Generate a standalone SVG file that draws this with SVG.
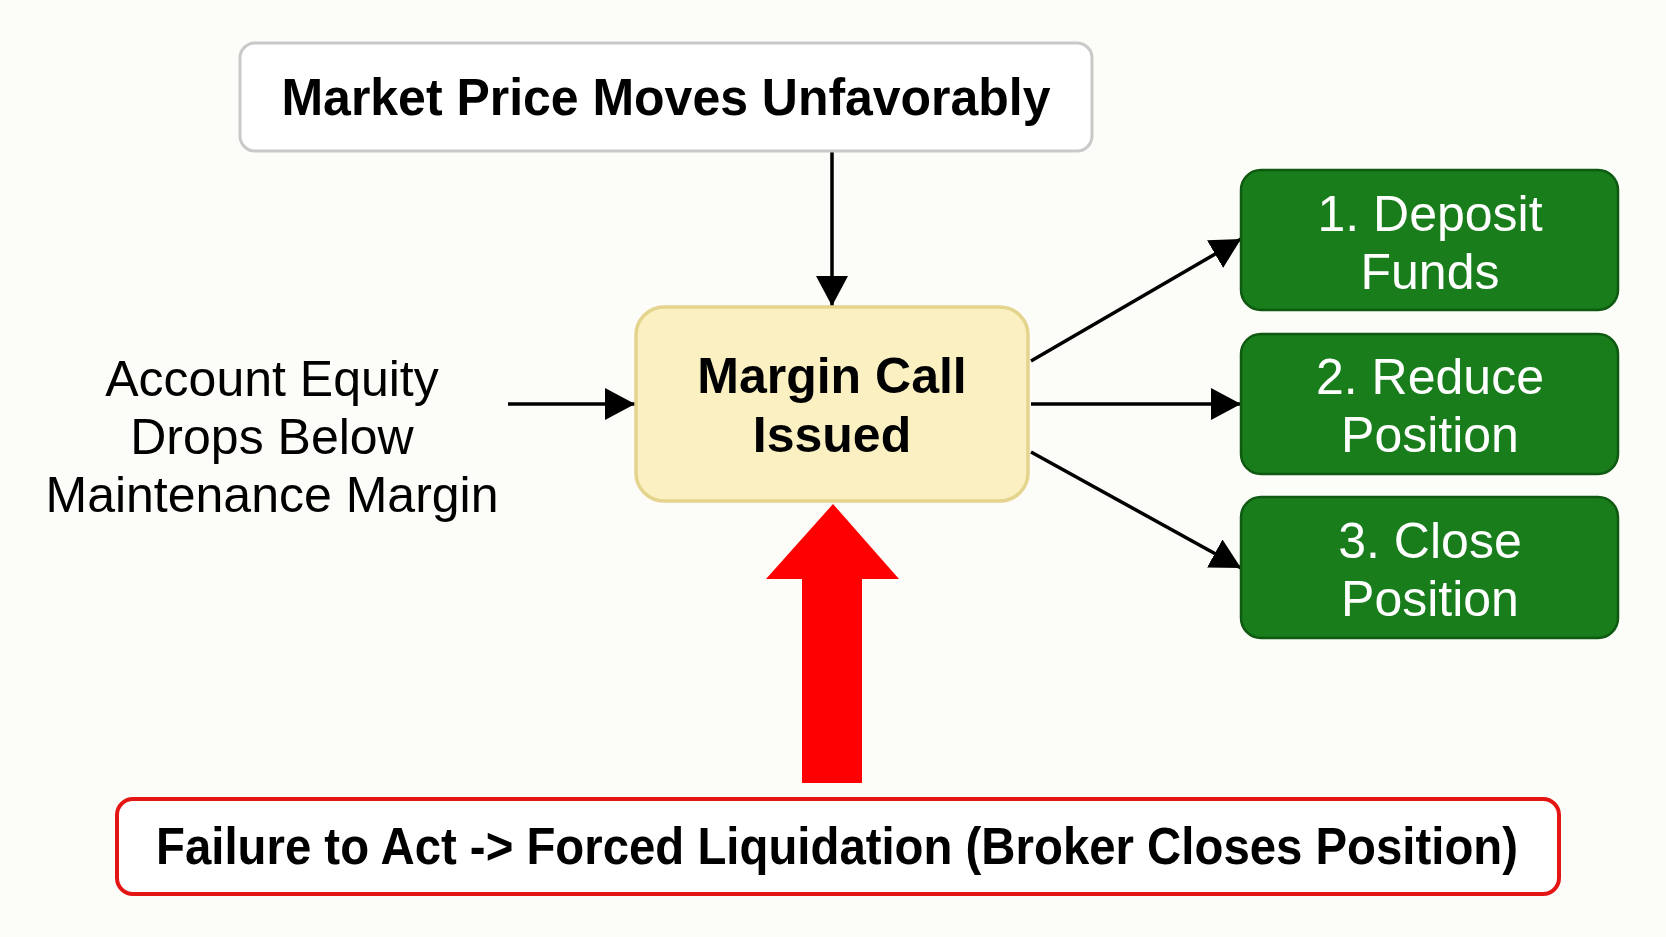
<svg xmlns="http://www.w3.org/2000/svg" width="1666" height="937" viewBox="0 0 1666 937">
<style>
.bold{font-family:"Liberation Sans",Arial,sans-serif;font-weight:bold;font-size:52px;fill:#000;text-anchor:middle}
.reg{font-family:"Liberation Sans",Arial,sans-serif;font-size:50px;fill:#000;text-anchor:middle}
.wt{font-family:"Liberation Sans",Arial,sans-serif;font-size:50px;fill:#fff;text-anchor:middle}
.green{fill:#197d1c;stroke:#0e5a11;stroke-width:2.5}
.conn{stroke:#000;stroke-width:3.5;fill:none}
</style>
<defs>
<marker id="ah" viewBox="0 0 10 10" refX="10" refY="5" markerWidth="9" markerHeight="9" markerUnits="userSpaceOnUse" orient="auto">
<path d="M0,0 L10,5 L0,10 Z" fill="#000"/>
</marker>
<marker id="a" viewBox="0 0 30 32" refX="30" refY="16" markerWidth="30" markerHeight="32" markerUnits="userSpaceOnUse" orient="auto">
<path d="M0,0 L30,16 L0,32 Z" fill="#000"/>
</marker>
</defs>
<rect width="1666" height="937" fill="#fcfcf8"/>
<g id="connectors">
<line class="conn" x1="832" y1="151" x2="832" y2="306" marker-end="url(#a)"/>
<line class="conn" x1="508" y1="404" x2="635" y2="404" marker-end="url(#a)"/>
<line class="conn" x1="1031" y1="361" x2="1241" y2="239" marker-end="url(#a)"/>
<line class="conn" x1="1031" y1="404" x2="1241" y2="404" marker-end="url(#a)"/>
<line class="conn" x1="1031" y1="452" x2="1241" y2="568" marker-end="url(#a)"/>
<path id="red-arrow" d="M833,504 L899,579 L862,579 L862,783 L802,783 L802,579 L766,579 Z" fill="#fe0000"/>
</g>
<g id="market">
<rect x="240" y="43" width="852" height="108" rx="15" fill="#fff" stroke="#c9c9c9" stroke-width="3"/>
<text class="bold" x="666" y="115" textLength="769" lengthAdjust="spacingAndGlyphs">Market Price Moves Unfavorably</text>
</g>
<g id="equity">
<text class="reg" x="272" y="396">Account Equity</text>
<text class="reg" x="272" y="454">Drops Below</text>
<text class="reg" x="272" y="512">Maintenance Margin</text>
</g>
<g id="margin-call">
<rect x="636" y="307" width="392" height="194" rx="28" fill="#faf0c2" stroke="#e5d48d" stroke-width="3.5"/>
<text class="bold" x="832" y="393" style="font-size:50px">Margin Call</text>
<text class="bold" x="832" y="452" style="font-size:50px">Issued</text>
</g>
<g id="deposit">
<rect class="green" x="1241" y="170" width="377" height="140" rx="20"/>
<text class="wt" x="1430" y="231">1. Deposit</text>
<text class="wt" x="1430" y="289">Funds</text>
</g>
<g id="reduce">
<rect class="green" x="1241" y="334" width="377" height="140" rx="20"/>
<text class="wt" x="1430" y="394">2. Reduce</text>
<text class="wt" x="1430" y="452">Position</text>
</g>
<g id="close">
<rect class="green" x="1241" y="497" width="377" height="141" rx="20"/>
<text class="wt" x="1430" y="558">3. Close</text>
<text class="wt" x="1430" y="616">Position</text>
</g>
<g id="liquidation">
<rect x="117" y="799" width="1442" height="95" rx="16" fill="#fff" stroke="#e31515" stroke-width="4"/>
<text class="bold" x="837" y="864" textLength="1362" lengthAdjust="spacingAndGlyphs">Failure to Act -&gt; Forced Liquidation (Broker Closes Position)</text>
</g>
</svg>
